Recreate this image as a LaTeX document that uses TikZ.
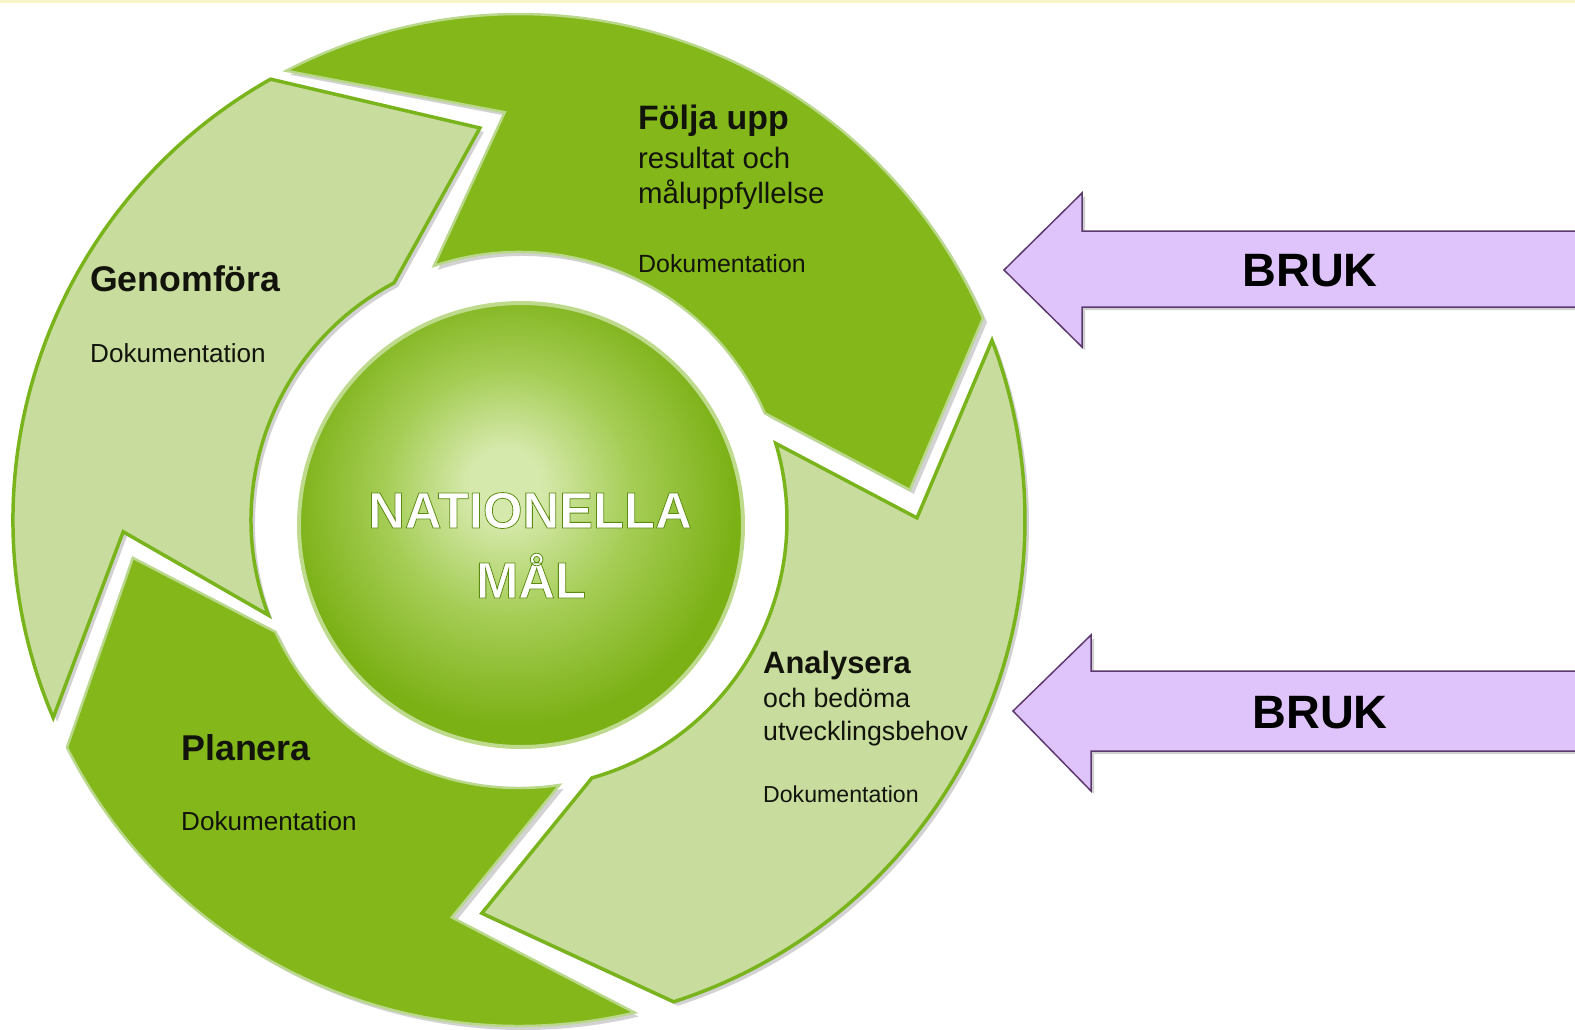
\documentclass[tikz,border=0pt]{standalone}
\usepackage{fontspec}
\setmainfont{Liberation Sans}
\usetikzlibrary{calc,shadows}
\definecolor{darkg}{RGB}{132,184,26}
\definecolor{lightg}{RGB}{200,221,157}
\definecolor{lightedge}{RGB}{122,180,28}
\definecolor{darkedge}{RGB}{186,216,140}
\definecolor{ginner}{RGB}{214,233,172}
\definecolor{gmid}{RGB}{165,205,85}
\definecolor{gouter}{RGB}{124,177,22}
\definecolor{circedge}{RGB}{190,218,140}
\definecolor{lilac}{RGB}{222,196,250}
\definecolor{lilacedge}{RGB}{92,58,110}
\definecolor{labeltxt}{RGB}{18,20,12}
\definecolor{topline}{RGB}{246,246,196}
\pgfdeclareradialshading{glow}{\pgfpoint{-2bp}{5bp}}{color(0bp)=(ginner); color(4bp)=(ginner); color(14bp)=(gmid); color(25bp)=(gouter); color(50bp)=(gouter)}
\newcommand\fsz[1]{\fontsize{#1}{#1}\selectfont}
% white letters with a thin green contour (PDF text render mode 2)
\newcommand\outlinetext[1]{\special{pdf:literal direct 2 Tr 0.8 w 0.36 0.55 0.06 RG 1 g}#1\special{pdf:literal direct 0 Tr}}
\begin{document}
\begin{tikzpicture}[x=1bp,y=1bp,
  lightseg/.style={fill=lightg, draw=lightedge, line width=3.5, line join=miter,
    drop shadow={shadow xshift=4bp, shadow yshift=-4bp, opacity=0.25, fill=black!70}},
  darkseg/.style={fill=darkg, draw=darkedge, line width=2.5, line join=miter,
    drop shadow={shadow xshift=4bp, shadow yshift=-4bp, opacity=0.25, fill=black!70}},
  bruk/.style={fill=lilac, draw=lilacedge, line width=1.5, line join=miter,
    drop shadow={shadow xshift=3bp, shadow yshift=-3bp, opacity=0.3, fill=black!60}},
  lbl/.style={anchor=base west, inner sep=0, text=labeltxt},
  bigtxt/.style={anchor=base, inner sep=0, font=\fsz{51}\bfseries, text=white}]
\useasboundingbox (0,0) rectangle (1575,-1029);
\fill[white] (0,0) rectangle (1575,-1029);
\fill[topline] (0,0) rectangle (1575,-2.5);
\coordinate (C) at (519,-520);

% Planera
\path[darkseg] ($(C)+(-76.8:506)$) arc[start angle=-76.8, end angle=-153.3, radius=506]
  -- ($(C)+(-174.4:388)$) -- ($(C)+(-155.3:268)$)
  arc[start angle=-155.3, end angle=-81.3, radius=268]
  -- ($(C)+(-99.6:403)$) -- cycle;
% Genomfora
\path[lightseg] ($(C)+(203:506)$) arc[start angle=203, end angle=119.4, radius=506]
  -- ($(C)+(95.7:394)$) -- ($(C)+(117.8:268)$)
  arc[start angle=117.8, end angle=200.8, radius=268]
  -- ($(C)+(181.7:396)$) -- cycle;
% Folja upp
\path[darkseg] ($(C)+(117.4:506)$) arc[start angle=117.4, end angle=23.5, radius=506]
  -- ($(C)+(4.4:392)$) -- ($(C)+(23.5:268)$)
  arc[start angle=23.5, end angle=108.5, radius=268]
  -- ($(C)+(92:408)$) -- cycle;
% Analysera
\path[lightseg] ($(C)+(20.8:506)$) arc[start angle=20.8, end angle=-72.2, radius=506]
  -- ($(C)+(-95.4:395)$) -- ($(C)+(-74.2:268)$)
  arc[start angle=-74.2, end angle=16.6, radius=268]
  -- ($(C)+(0.3:398)$) -- cycle;

% central goal
\node[circle, shade, shading=glow, draw=circedge, line width=4, minimum size=444bp, inner sep=0] (goal) at (521,-525) {};
\node[bigtxt] (nat) at (530,-528) {\outlinetext{NATIONELLA}};
\node[bigtxt] (mal) at (531,-598) {\outlinetext{MÅL}};

% labels
\node[lbl, font=\fsz{34}\bfseries] (f1) at (638,-129) {Följa upp};
\node[lbl, font=\fsz{29.5}] (f2) at (638,-168) {resultat och};
\node[lbl, font=\fsz{29.5}] (f3) at (638,-203) {måluppfyllelse};
\node[lbl, font=\fsz{25}] (f4) at (638,-272) {Dokumentation};

\node[lbl, font=\fsz{35.8}\bfseries] (g1) at (90,-291) {Genomföra};
\node[lbl, font=\fsz{26.2}] (g2) at (90,-362) {Dokumentation};

\node[lbl, font=\fsz{36}\bfseries] (p1) at (181,-760) {Planera};
\node[lbl, font=\fsz{26.2}] (p2) at (181,-830) {Dokumentation};

\node[lbl, font=\fsz{31}\bfseries] (a1) at (763,-673) {Analysera};
\node[lbl, font=\fsz{26.8}] (a2) at (763,-707) {och bedöma};
\node[lbl, font=\fsz{26.8}] (a3) at (763,-740) {utvecklingsbehov};
\node[lbl, font=\fsz{23.2}] (a4) at (763,-802) {Dokumentation};

% BRUK arrows
\path[bruk] (1600,-231) -- (1082,-231) -- (1082,-193) -- (1004,-270)
  -- (1082,-347) -- (1082,-307) -- (1600,-307) -- cycle;
\node[font=\fsz{47}\bfseries, text=black, inner sep=0] (b1) at (1310,-271) {BRUK};
\path[bruk] (1600,-671) -- (1091,-671) -- (1091,-635) -- (1013,-711)
  -- (1091,-791) -- (1091,-751) -- (1600,-751) -- cycle;
\node[font=\fsz{47}\bfseries, text=black, inner sep=0] (b2) at (1320,-713) {BRUK};
\end{tikzpicture}
\end{document}
